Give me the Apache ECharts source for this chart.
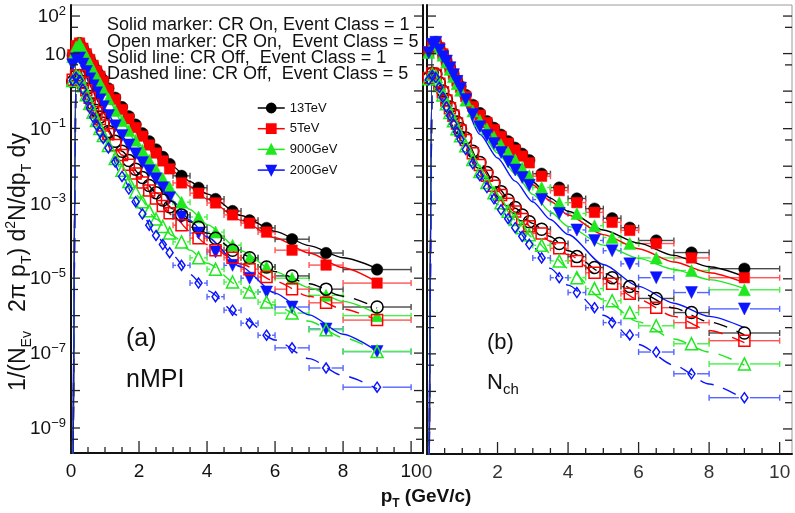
<!DOCTYPE html>
<html>
<head>
<meta charset="utf-8">
<script src="https://cdn.jsdelivr.net/npm/echarts/dist/echarts.min.js"></script>
<style>
  html, body { margin: 0; padding: 0; background: #fff; }
  #chart { width: 795px; height: 513px; }
</style>
</head>
<body>
<div id="chart"></div>
<script>
// pT bin edges (GeV/c) of the spectra
const ptEdges = [0.0, 0.1, 0.2, 0.3, 0.4, 0.5, 0.6, 0.7, 0.8, 0.9, 1.0, 1.2, 1.4, 1.6, 1.8, 2.0, 2.2, 2.4, 2.6, 2.8, 3.0, 3.5, 4.0, 4.5, 5.0, 5.5, 6.0, 7.0, 8.0, 10.0];
// pT points of the CR-off curves
const curvePt = [0.05, 0.15, 0.25, 0.5, 0.75, 1.0, 1.5, 2.0, 2.5, 3.0, 3.5, 4.0, 5.0, 6.0, 7.0, 8.0, 9.0];

// (a) nMPI classes, CR on (markers)
const nmpi13TeV_ec1 = [8.9, 16, 19, 14, 10, 7.1, 5.0, 3.6, 2.6, 1.95, 1.17, 0.66, 0.37, 0.21, 0.126, 0.074, 0.045, 0.0275, 0.0174, 0.0112, 5.4e-3, 2.6e-3, 1.3e-3, 6.2e-4, 3.5e-4, 2.2e-4, 1.1e-4, 4.7e-5, 1.7e-5];
const nmpi5TeV_ec1 = [9.3, 16.2, 19, 13.8, 9.8, 6.9, 4.8, 3.4, 2.45, 1.78, 1.07, 0.59, 0.32, 0.18, 0.105, 0.062, 0.036, 0.022, 0.0135, 0.0083, 3.5e-3, 1.86e-3, 1.02e-3, 4.9e-4, 2.95e-4, 1.7e-4, 5.6e-5, 2.24e-5, 7.4e-6];
const nmpi900GeV_ec1 = [8.3, 15.1, 18.6, 12.6, 8.3, 5.5, 3.6, 2.4, 1.62, 1.1, 0.62, 0.30, 0.16, 0.088, 0.048, 0.026, 0.0142, 0.0080, 0.0046, 0.0027, 1.07e-3, 4.3e-4, 1.7e-4, 7.6e-5, 3.5e-5, 2.0e-5, 1.0e-5, 3.5e-6, 1.0e-6];
const nmpi200GeV_ec1 = [5.0, 7.2, 7.6, 5.2, 3.3, 2.1, 1.38, 0.89, 0.58, 0.38, 0.22, 0.117, 0.065, 0.036, 0.021, 0.0123, 0.0074, 0.0045, 0.0026, 0.0014, 4.3e-4, 1.6e-4, 5.0e-5, 2.2e-5, 1.0e-5, 4.3e-6, 1.7e-6, 4.4e-7, 1.1e-7];
const nmpi13TeV_ec5 = [1.78, 2.5, 2.6, 1.78, 1.12, 0.71, 0.45, 0.30, 0.20, 0.138, 0.083, 0.045, 0.0245, 0.0138, 0.0081, 0.0049, 0.0030, 0.0019, 0.00123, 8.1e-4, 4.9e-4, 2.3e-4, 1.17e-4, 5.6e-5, 3.5e-5, 2.0e-5, 1.15e-5, 5.1e-6, 1.7e-6];
const nmpi5TeV_ec5 = [2.0, 2.6, 2.5, 1.66, 1.05, 0.66, 0.42, 0.27, 0.178, 0.12, 0.071, 0.036, 0.0195, 0.0107, 0.0062, 0.0036, 0.0022, 0.00135, 8.5e-4, 5.4e-4, 2.6e-4, 1.17e-4, 5.6e-5, 3.5e-5, 1.74e-5, 1.07e-5, 5.1e-6, 2.2e-6, 7.6e-7];
const nmpi900GeV_ec5 = [1.9, 2.5, 2.3, 1.38, 0.79, 0.46, 0.27, 0.162, 0.10, 0.065, 0.035, 0.0158, 0.0076, 0.0038, 0.0020, 0.0011, 6.3e-4, 3.8e-4, 2.4e-4, 1.6e-4, 9.3e-5, 3.5e-5, 1.74e-5, 7.9e-6, 4.3e-6, 2.3e-6, 1.17e-6, 4.2e-7, 1.1e-7];
const nmpi200GeV_ec5 = [1.9, 2.3, 1.9, 1.1, 0.60, 0.35, 0.20, 0.123, 0.079, 0.054, 0.030, 0.0126, 0.0052, 0.0024, 0.0011, 5.2e-4, 2.6e-4, 1.38e-4, 7.9e-5, 4.8e-5, 2.2e-5, 7.4e-6, 3.2e-6, 1.4e-6, 6.3e-7, 3.0e-7, 1.38e-7, 4.0e-8, 1.23e-8];

// (a) nMPI classes, CR off (curves)
const nmpi13TeV_off1 = [1e-12, 15.1, 18.6, 8.3, 3.55, 1.66, 0.37, 0.095, 0.0275, 0.0095, 3.8e-3, 1.78e-3, 4.7e-4, 1.78e-4, 7.4e-5, 3.5e-5, 1.8e-5];
const nmpi5TeV_off1 = [1e-12, 15.1, 18.6, 7.9, 3.3, 1.48, 0.32, 0.079, 0.022, 0.0071, 2.8e-3, 1.3e-3, 3.5e-4, 1.2e-4, 4.7e-5, 1.9e-5, 7.9e-6];
const nmpi900GeV_off1 = [1e-12, 14.1, 17.8, 6.6, 2.3, 0.91, 0.15, 0.032, 0.0075, 0.0021, 6.8e-4, 2.7e-4, 5.4e-5, 1.5e-5, 5.6e-6, 2.4e-6, 1.12e-6];
const nmpi200GeV_off1 = [1e-12, 7.1, 7.4, 2.6, 0.87, 0.32, 0.060, 0.015, 0.0040, 1.12e-3, 3.5e-4, 1.26e-4, 2.0e-5, 4.0e-6, 1.05e-6, 3.2e-7, 1.12e-7];
const nmpi13TeV_off5 = [1e-12, 2.5, 2.6, 0.89, 0.30, 0.117, 0.0245, 0.0063, 0.0019, 7.1e-4, 3.2e-4, 1.6e-4, 4.4e-5, 1.5e-5, 7.1e-6, 3.3e-6, 1.6e-6];
const nmpi5TeV_off5 = [1e-12, 2.6, 2.45, 0.83, 0.27, 0.105, 0.0195, 0.0047, 1.35e-3, 4.7e-4, 1.8e-4, 7.9e-5, 2.4e-5, 8.3e-6, 3.3e-6, 1.5e-6, 7.6e-7];
const nmpi900GeV_off5 = [1e-12, 2.45, 2.24, 0.60, 0.162, 0.056, 0.0076, 1.48e-3, 3.8e-4, 1.35e-4, 5.6e-5, 2.5e-5, 5.8e-6, 1.9e-6, 7.1e-7, 2.6e-7, 1.12e-7];
const nmpi200GeV_off5 = [1e-12, 2.24, 1.86, 0.46, 0.123, 0.047, 0.0052, 7.6e-4, 1.38e-4, 4.0e-5, 1.26e-5, 4.7e-6, 9.3e-7, 2.24e-7, 7.1e-8, 2.5e-8, 1.12e-8];

// (b) Nch classes, CR on (markers)
const nch13TeV_ec1 = [11.2, 17.8, 20.4, 14.8, 10, 6.6, 4.4, 2.9, 1.95, 1.35, 0.79, 0.43, 0.26, 0.158, 0.105, 0.069, 0.046, 0.031, 0.0214, 0.0145, 6.3e-3, 2.7e-3, 1.38e-3, 7.4e-4, 4.1e-4, 2.3e-4, 1.05e-4, 5.0e-5, 1.86e-5];
const nch5TeV_ec1 = [11.2, 17.8, 20, 14.5, 9.8, 6.5, 4.3, 2.8, 1.86, 1.26, 0.72, 0.39, 0.23, 0.145, 0.095, 0.062, 0.041, 0.027, 0.0186, 0.0123, 5.4e-3, 2.24e-3, 1.07e-3, 5.9e-4, 3.2e-4, 1.95e-4, 8.7e-5, 3.6e-5, 1.07e-5];
const nch900GeV_ec1 = [10.7, 17.4, 19.5, 13.8, 9.1, 5.9, 3.8, 2.45, 1.58, 1.05, 0.575, 0.295, 0.166, 0.098, 0.060, 0.037, 0.0234, 0.0148, 9.1e-3, 5.6e-3, 2.7e-3, 1.07e-3, 5.5e-4, 2.6e-4, 1.26e-4, 8.7e-5, 3.6e-5, 1.66e-5, 5.1e-6];
const nch200GeV_ec1 = [10.5, 17.8, 20, 12.6, 8.3, 6.3, 4.2, 2.75, 1.82, 1.2, 0.60, 0.24, 0.112, 0.066, 0.040, 0.023, 0.0132, 0.0079, 5.0e-3, 3.1e-3, 1.29e-3, 5.5e-4, 2.0e-4, 1.05e-4, 5.6e-5, 2.5e-5, 1.07e-5, 4.3e-6, 1.58e-6];
const nch13TeV_ec5 = [2.24, 3.0, 2.8, 1.66, 1.0, 0.60, 0.38, 0.24, 0.151, 0.10, 0.056, 0.025, 0.0126, 6.8e-3, 3.7e-3, 2.1e-3, 1.26e-3, 7.9e-4, 5.0e-4, 3.3e-4, 2.1e-4, 8.7e-5, 3.9e-5, 2.0e-5, 1.07e-5, 6.2e-6, 3.0e-6, 1.26e-6, 3.6e-7];
const nch5TeV_ec5 = [2.24, 2.95, 2.7, 1.58, 0.93, 0.56, 0.35, 0.22, 0.138, 0.089, 0.050, 0.022, 0.0107, 5.6e-3, 3.0e-3, 1.7e-3, 1.0e-3, 6.2e-4, 3.9e-4, 2.5e-4, 1.62e-4, 6.5e-5, 3.0e-5, 1.45e-5, 7.4e-6, 4.0e-6, 1.7e-6, 6.8e-7, 2.24e-7];
const nch900GeV_ec5 = [2.14, 2.8, 2.5, 1.41, 0.79, 0.46, 0.27, 0.162, 0.10, 0.065, 0.035, 0.0151, 7.2e-3, 3.7e-3, 1.95e-3, 1.07e-3, 6.3e-4, 3.8e-4, 2.3e-4, 1.48e-4, 7.8e-5, 3.0e-5, 1.07e-5, 5.5e-6, 2.6e-6, 1.26e-6, 5.6e-7, 1.86e-7, 5.4e-8];
const nch200GeV_ec5 = [2.0, 2.6, 2.3, 1.26, 0.69, 0.38, 0.22, 0.132, 0.081, 0.052, 0.028, 0.0117, 5.6e-3, 2.7e-3, 1.35e-3, 6.9e-4, 4.0e-4, 2.3e-4, 1.35e-4, 8.3e-5, 3.6e-5, 1.07e-5, 4.3e-6, 1.7e-6, 6.8e-7, 3.2e-7, 1.12e-7, 2.95e-8, 6.8e-9];

// (b) Nch classes, CR off (curves)
const nch13TeV_off1 = [1e-12, 17.8, 20, 7.9, 2.8, 1.05, 0.166, 0.040, 0.012, 3.8e-3, 1.41e-3, 6.3e-4, 2.0e-4, 8.9e-5, 4.2e-5, 2.1e-5, 1.15e-5];
const nch5TeV_off1 = [1e-12, 17.8, 20, 7.9, 2.8, 1.0, 0.158, 0.037, 0.0107, 3.2e-3, 1.17e-3, 5.0e-4, 1.5e-4, 6.3e-5, 2.8e-5, 1.45e-5, 7.9e-6];
const nch900GeV_off1 = [1e-12, 17.4, 19.5, 7.1, 2.1, 0.63, 0.089, 0.0224, 6.3e-3, 1.78e-3, 6.0e-4, 2.5e-4, 7.9e-5, 3.5e-5, 1.78e-5, 9.5e-6, 5.5e-6];
const nch200GeV_off1 = [1e-12, 17.4, 19.5, 6.8, 1.9, 0.56, 0.071, 0.0166, 4.0e-3, 1.12e-3, 3.8e-4, 1.51e-4, 2.4e-5, 6.3e-6, 2.24e-6, 1.0e-6, 5.0e-7];
const nch13TeV_off5 = [1e-12, 2.95, 2.75, 0.76, 0.23, 0.085, 0.012, 2.7e-3, 7.6e-4, 3.0e-4, 1.32e-4, 5.6e-5, 1.41e-5, 4.5e-6, 1.66e-6, 7.1e-7, 3.2e-7];
const nch5TeV_off5 = [1e-12, 2.88, 2.63, 0.71, 0.214, 0.076, 0.0102, 2.2e-3, 6.0e-4, 2.24e-4, 1.0e-4, 4.4e-5, 1.0e-5, 2.8e-6, 1.0e-6, 4.2e-7, 2.0e-7];
const nch900GeV_off5 = [1e-12, 2.75, 2.45, 0.60, 0.158, 0.054, 6.9e-3, 1.41e-3, 3.7e-4, 1.26e-4, 4.8e-5, 1.9e-5, 2.8e-6, 7.1e-7, 2.5e-7, 1.12e-7, 5.0e-8];
const nch200GeV_off5 = [1e-12, 2.57, 2.24, 0.50, 0.129, 0.045, 5.4e-3, 9.5e-4, 2.24e-4, 7.1e-5, 1.9e-5, 6.8e-6, 1.07e-6, 1.78e-7, 5.0e-8, 1.58e-8, 6.3e-9];

// collision energies (legend entries)
const energies = ['13TeV', '5TeV', '900GeV', '200GeV'];

// axis ticks
const xMajorTicks = [0, 2, 4, 6, 8, 10];
const xMinorTicks = [0.5, 1, 1.5, 2.5, 3, 3.5, 4.5, 5, 5.5, 6.5, 7, 7.5, 8.5, 9, 9.5];
const yDecadeTicks = [1e2, 1e1, 1, 1e-1, 1e-2, 1e-3, 1e-4, 1e-5, 1e-6, 1e-7, 1e-8, 1e-9];
const yHalfTicks = [50, 5, 0.5, 5e-2, 5e-3, 5e-4, 5e-5, 5e-6, 5e-7, 5e-8, 5e-9, 5e-10];
const yLabelValues = [1e2, 1e1, 1e-1, 1e-3, 1e-5, 1e-7, 1e-9];
const yLabelTexts = ['10{s|2}', '10', '10{s|\u22121}', '10{s|\u22123}', '10{s|\u22125}', '10{s|\u22127}', '10{s|\u22129}'];

// ---- layout & style ----
const FONT = 'Liberation Sans';
const X_MAX = 10.35, Y_MIN = 2.15e-10, Y_MAX = 197;
const ptCenters = ptEdges.slice(0, -1).map((e, i) => (e + ptEdges[i + 1]) / 2);

const COL = { '13TeV': '#000000', '5TeV': '#ff0000', '900GeV': '#1fe81f', '200GeV': '#0a14ff' };
const BAR = { '13TeV': '#4a4a4a', '5TeV': '#ff5555', '900GeV': '#48f048', '200GeV': '#5566ff' };
const FILLED = {
  '13TeV': { symbol: 'circle', size: 11.5, rot: 0 },
  '5TeV': { symbol: 'rect', size: 10.5, rot: 0 },
  '900GeV': { symbol: 'triangle', size: 12, rot: 0 },
  '200GeV': { symbol: 'triangle', size: 12, rot: 180 }
};
const OPEN = {
  '13TeV': { symbol: 'circle', size: 12, rot: 0 },
  '5TeV': { symbol: 'rect', size: 11, rot: 0 },
  '900GeV': { symbol: 'triangle', size: 12, rot: 0 },
  '200GeV': { symbol: 'diamond', size: [7, 10], rot: 0 }
};

function errorBarSeries(g, vals, energy) {
  const col = BAR[energy];
  return {
    type: 'custom', xAxisIndex: g, yAxisIndex: g, silent: true, clip: true,
    data: vals.map((v, i) => [ptEdges[i], ptEdges[i + 1], v, ptCenters[i]]),
    encode: { x: [0, 1, 3], y: 2 },
    renderItem(params, api) {
      const y = api.value(2);
      const a = api.coord([api.value(0), y]);
      const b = api.coord([api.value(1), y]);
      const c = api.coord([api.value(3), y]);
      const st = { stroke: col, lineWidth: 1.4 };
      const half = 5.5, cap = 3;
      const ch = [];
      if (c[0] - half > a[0] + 1) {
        ch.push({ type: 'line', shape: { x1: a[0], y1: a[1], x2: c[0] - half, y2: a[1] }, style: st });
        ch.push({ type: 'line', shape: { x1: a[0], y1: a[1] - cap, x2: a[0], y2: a[1] + cap }, style: st });
      }
      if (b[0] > c[0] + half + 1) {
        ch.push({ type: 'line', shape: { x1: c[0] + half, y1: b[1], x2: b[0], y2: b[1] }, style: st });
        ch.push({ type: 'line', shape: { x1: b[0], y1: b[1] - cap, x2: b[0], y2: b[1] + cap }, style: st });
      }
      return { type: 'group', children: ch };
    }
  };
}

function markerSeries(g, vals, energy, open) {
  const m = open ? OPEN[energy] : FILLED[energy];
  return {
    name: open ? energy + ' event class 5' : energy,
    type: 'line', xAxisIndex: g, yAxisIndex: g,
    data: vals.map((v, i) => [ptCenters[i], v]),
    symbol: m.symbol, symbolSize: m.size, symbolRotate: m.rot,
    showSymbol: true,
    lineStyle: { opacity: 0, width: 1.5, color: COL[energy] },
    itemStyle: open
      ? { color: 'rgba(255,255,255,0)', borderColor: COL[energy], borderWidth: 1.5 }
      : { color: COL[energy], borderColor: COL[energy], borderWidth: 0.5 },
    emphasis: { disabled: true }
  };
}

function curveSeries(g, vals, energy, dashed) {
  return {
    name: energy + (dashed ? ' CR off class 5' : ' CR off class 1'),
    type: 'line', xAxisIndex: g, yAxisIndex: g,
    data: vals.map((v, i) => [curvePt[i], v]),
    symbol: 'none', smooth: 0.25, smoothMonotone: 'x', clip: true,
    lineStyle: { color: COL[energy], width: 1.4, type: dashed ? [14, 10] : 'solid' },
    emphasis: { disabled: true }
  };
}

function ySideTicks(g) {
  const data = yDecadeTicks.map(v => [0, v, 1]).concat(yHalfTicks.map(v => [0, v, 0]));
  return {
    type: 'custom', xAxisIndex: g, yAxisIndex: g, silent: true, z: 10,
    data, encode: { x: 0, y: 1 },
    renderItem(params, api) {
      const v = api.value(1);
      const L = api.coord([0, v]);
      const R = api.coord([X_MAX, v]);
      const len = api.value(2) ? 9 : 7;
      const st = { stroke: '#222', lineWidth: 1.3 };
      return { type: 'group', children: [
        { type: 'line', shape: { x1: L[0], y1: L[1], x2: L[0] + len, y2: L[1] }, style: st },
        { type: 'line', shape: { x1: R[0] - len, y1: R[1], x2: R[0], y2: R[1] }, style: st }
      ] };
    }
  };
}

function xTicks(g) {
  const data = xMajorTicks.map(v => [v, Y_MIN, 1]).concat(xMinorTicks.map(v => [v, Y_MIN, 0]));
  return {
    type: 'custom', xAxisIndex: g, yAxisIndex: g, silent: true, z: 10,
    data, encode: { x: 0, y: 1 },
    renderItem(params, api) {
      const p = api.coord([api.value(0), api.value(1)]);
      const len = api.value(2) ? 12 : 6;
      return { type: 'line', shape: { x1: p[0], y1: p[1], x2: p[0], y2: p[1] - len },
        style: { stroke: '#222', lineWidth: 1.3 } };
    }
  };
}

const yLabelSeries = {
  type: 'custom', xAxisIndex: 0, yAxisIndex: 0, silent: true, z: 10,
  data: yLabelValues.map(v => [0, v]), encode: { x: 0, y: 1 },
  renderItem(params, api) {
    const p = api.coord([0, api.value(1)]);
    return {
      type: 'text', x: p[0] - 5, y: p[1] + 1,
      style: {
        text: yLabelTexts[params.dataIndex], fill: '#111',
        fontSize: 19, fontFamily: FONT, lineHeight: 24,
        align: 'right', verticalAlign: 'middle',
        rich: { s: { fontSize: 13, fontFamily: FONT, lineHeight: 13, verticalAlign: 'top', fill: '#111' } }
      }
    };
  }
};

const panels = [
  { ec1: [nmpi13TeV_ec1, nmpi5TeV_ec1, nmpi900GeV_ec1, nmpi200GeV_ec1],
    ec5: [nmpi13TeV_ec5, nmpi5TeV_ec5, nmpi900GeV_ec5, nmpi200GeV_ec5],
    off1: [nmpi13TeV_off1, nmpi5TeV_off1, nmpi900GeV_off1, nmpi200GeV_off1],
    off5: [nmpi13TeV_off5, nmpi5TeV_off5, nmpi900GeV_off5, nmpi200GeV_off5] },
  { ec1: [nch13TeV_ec1, nch5TeV_ec1, nch900GeV_ec1, nch200GeV_ec1],
    ec5: [nch13TeV_ec5, nch5TeV_ec5, nch900GeV_ec5, nch200GeV_ec5],
    off1: [nch13TeV_off1, nch5TeV_off1, nch900GeV_off1, nch200GeV_off1],
    off5: [nch13TeV_off5, nch5TeV_off5, nch900GeV_off5, nch200GeV_off5] }
];

const series = [];
panels.forEach((p, g) => {
  energies.forEach((e, k) => { series.push(errorBarSeries(g, p.ec1[k], e)); series.push(markerSeries(g, p.ec1[k], e, false)); });
  energies.forEach((e, k) => { series.push(errorBarSeries(g, p.ec5[k], e)); series.push(markerSeries(g, p.ec5[k], e, true)); });
  energies.forEach((e, k) => { series.push(curveSeries(g, p.off1[k], e, false)); });
  energies.forEach((e, k) => { series.push(curveSeries(g, p.off5[k], e, true)); });
  series.push(ySideTicks(g));
  series.push(xTicks(g));
});
series.push(yLabelSeries);

function xAxisFor(g, labelColor) {
  return {
    gridIndex: g, type: 'value', min: 0, max: X_MAX, interval: 2,
    axisLine: { show: true, onZero: false, lineStyle: { color: '#111', width: 2 } },
    axisTick: { show: false }, splitLine: { show: false },
    axisLabel: {
      margin: 9, fontSize: 19, fontFamily: FONT, color: labelColor,
      formatter: v => (v <= 10 && Math.abs(v % 2) < 1e-9) ? String(v) : ''
    }
  };
}
function yAxisFor(g, pos) {
  return {
    gridIndex: g, type: 'log', min: Y_MIN, max: Y_MAX, position: pos,
    axisLine: { show: true, lineStyle: { color: '#111', width: 2 } },
    axisTick: { show: false }, axisLabel: { show: false }, splitLine: { show: false }, minorTick: { show: false }
  };
}

const chart = echarts.init(document.getElementById('chart'), null, { renderer: 'canvas' });
chart.setOption({
  animation: false,
  backgroundColor: '#ffffff',
  textStyle: { fontFamily: FONT },
  grid: [
    { left: 71, top: 5, width: 352, height: 448, show: true, borderColor: '#9a9a9a', borderWidth: 1 },
    { left: 427, top: 5, width: 375, height: 449, show: true, borderColor: '#9a9a9a', borderWidth: 1 }
  ],
  xAxis: [xAxisFor(0, '#111'), xAxisFor(1, '#333')],
  yAxis: [yAxisFor(0, 'left'), yAxisFor(1, 'left'), yAxisFor(0, 'right')],
  legend: {
    data: energies, orient: 'vertical', left: 257, top: 101, padding: 0,
    itemWidth: 27, itemHeight: 11, itemGap: 6.7, selectedMode: false,
    textStyle: { fontSize: 13, fontFamily: FONT, color: '#111', lineHeight: 14 },
    lineStyle: { opacity: 1, width: 1.5 }
  },
  graphic: [
    { type: 'text', x: 107, y: 25, style: { text: 'Solid marker: CR On, Event Class = 1', fontSize: 18, fontFamily: FONT, fill: '#111', verticalAlign: 'middle' } },
    { type: 'text', x: 107, y: 42, style: { text: 'Open marker: CR On,  Event Class = 5', fontSize: 18, fontFamily: FONT, fill: '#111', verticalAlign: 'middle' } },
    { type: 'text', x: 107, y: 58, style: { text: 'Solid line: CR Off,  Event Class = 1', fontSize: 18, fontFamily: FONT, fill: '#111', verticalAlign: 'middle' } },
    { type: 'text', x: 107, y: 74, style: { text: 'Dashed line: CR Off,  Event Class = 5', fontSize: 18, fontFamily: FONT, fill: '#111', verticalAlign: 'middle' } },
    { type: 'text', x: 126, y: 339, style: { text: '(a)', fontSize: 25, fontFamily: FONT, fill: '#111', verticalAlign: 'middle' } },
    { type: 'text', x: 126, y: 380, style: { text: 'nMPI', fontSize: 25, fontFamily: FONT, fill: '#111', verticalAlign: 'middle' } },
    { type: 'text', x: 487, y: 343, style: { text: '(b)', fontSize: 22, fontFamily: FONT, fill: '#111', verticalAlign: 'middle' } },
    { type: 'text', x: 487, y: 383, style: {
        text: 'N{sb|ch}', fontSize: 22, fontFamily: FONT, fill: '#111', lineHeight: 28, verticalAlign: 'middle',
        rich: { sb: { fontSize: 15, fontFamily: FONT, lineHeight: 16, verticalAlign: 'bottom', fill: '#111' } } } },
    { type: 'text', x: 19, y: 262, rotation: Math.PI / 2, style: {
        text: '1/(N{sb|Ev}   2\u03c0 p{sb|T}) d{sp|2}N/dp{sb|T} dy', fontSize: 23, fontFamily: FONT, fill: '#111',
        lineHeight: 30, align: 'center', verticalAlign: 'middle',
        rich: {
          sb: { fontSize: 14, fontFamily: FONT, lineHeight: 17, verticalAlign: 'bottom', fill: '#111' },
          sp: { fontSize: 14, fontFamily: FONT, lineHeight: 15, verticalAlign: 'top', fill: '#111' }
        } } },
    { type: 'text', x: 426, y: 497, style: {
        text: 'p{sb|T} (GeV/c)', fontSize: 19, fontWeight: 'bold', fontFamily: FONT, fill: '#111',
        lineHeight: 26, align: 'center', verticalAlign: 'middle',
        rich: { sb: { fontSize: 12, fontWeight: 'bold', fontFamily: FONT, lineHeight: 14, verticalAlign: 'bottom', fill: '#111' } } } }
  ],
  series
});
</script>
</body>
</html>
